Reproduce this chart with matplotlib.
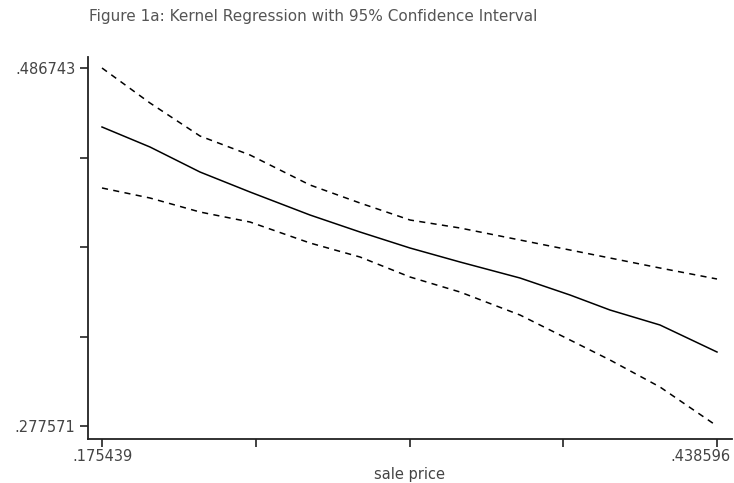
import matplotlib
matplotlib.use("Agg")
import matplotlib.pyplot as plt
import matplotlib.transforms as mtransforms

plt.rcParams["font.family"] = ["DejaVu Sans"]

# sale price grid
price = [0.175439, 0.19598, 0.21737, 0.23877, 0.26444, 0.28583, 0.30723,
         0.32863, 0.35430, 0.37570, 0.39281, 0.41421, 0.438596]
# kernel regression estimate
fit = [0.45227, 0.44058, 0.42597, 0.41429, 0.40085, 0.39092, 0.38157,
       0.37339, 0.36404, 0.35411, 0.34534, 0.33658, 0.32080]
# 95% confidence bounds
upper = [0.486743, 0.46629, 0.44701, 0.43591, 0.41838, 0.40786, 0.39793,
         0.39326, 0.38624, 0.38040, 0.37573, 0.36988, 0.36346]
lower = [0.41663, 0.41078, 0.40260, 0.39676, 0.38449, 0.37631, 0.36463,
         0.35586, 0.34242, 0.32782, 0.31613, 0.30035, 0.277571]

x_lo, x_hi = 0.175439, 0.438596
y_lo, y_hi = 0.277571, 0.486743

fig = plt.figure(figsize=(7.34, 4.83), dpi=100)
ax = fig.add_axes([88 / 734, 44 / 483, 644 / 734, 382 / 483])

ax.plot(price, fit, color="black", lw=1.1)
ax.plot(price, upper, color="black", lw=1.1, dashes=(4, 3.5))
ax.plot(price, lower, color="black", lw=1.1, dashes=(4, 3.5))

xstep = (x_hi - x_lo) / 615
ystep = (y_hi - y_lo) / 358
ax.set_xlim(x_lo - 14 * xstep, x_hi + 15 * xstep)
ax.set_ylim(y_lo - 13 * ystep, y_hi + 11 * ystep)

xt = [x_lo + i * (x_hi - x_lo) / 4 for i in range(5)]
yt = [y_lo + i * (y_hi - y_lo) / 4 for i in range(5)]
ax.set_xticks(xt)
ax.set_xticklabels([".175439", "", "", "", ".438596"])
ax.set_yticks(yt)
ax.set_yticklabels([".277571", "", "", "", ".486743"])

for s in ["top", "right"]:
    ax.spines[s].set_visible(False)
for s in ["left", "bottom"]:
    ax.spines[s].set_linewidth(1.3)
    ax.spines[s].set_color("#222222")

ax.tick_params(axis="both", length=6, width=1.2, color="#222222",
               labelsize=10.5, labelcolor="#444444")
ax.tick_params(axis="x", pad=1)
ax.tick_params(axis="y", pad=3)

last = ax.get_xticklabels()[-1]
last.set_horizontalalignment("right")
last.set_transform(last.get_transform() +
                   mtransforms.ScaledTranslation(14 / 100, 0, fig.dpi_scale_trans))

ax.set_xlabel("sale price", fontsize=10.5, color="#444444", labelpad=2)

fig.text(89 / 734, 1 - 16 / 483, "Figure 1a: Kernel Regression with 95% Confidence Interval",
         fontsize=11, color="#555555", ha="left", va="center")

fig.savefig("out.png", dpi=100, facecolor="white")
